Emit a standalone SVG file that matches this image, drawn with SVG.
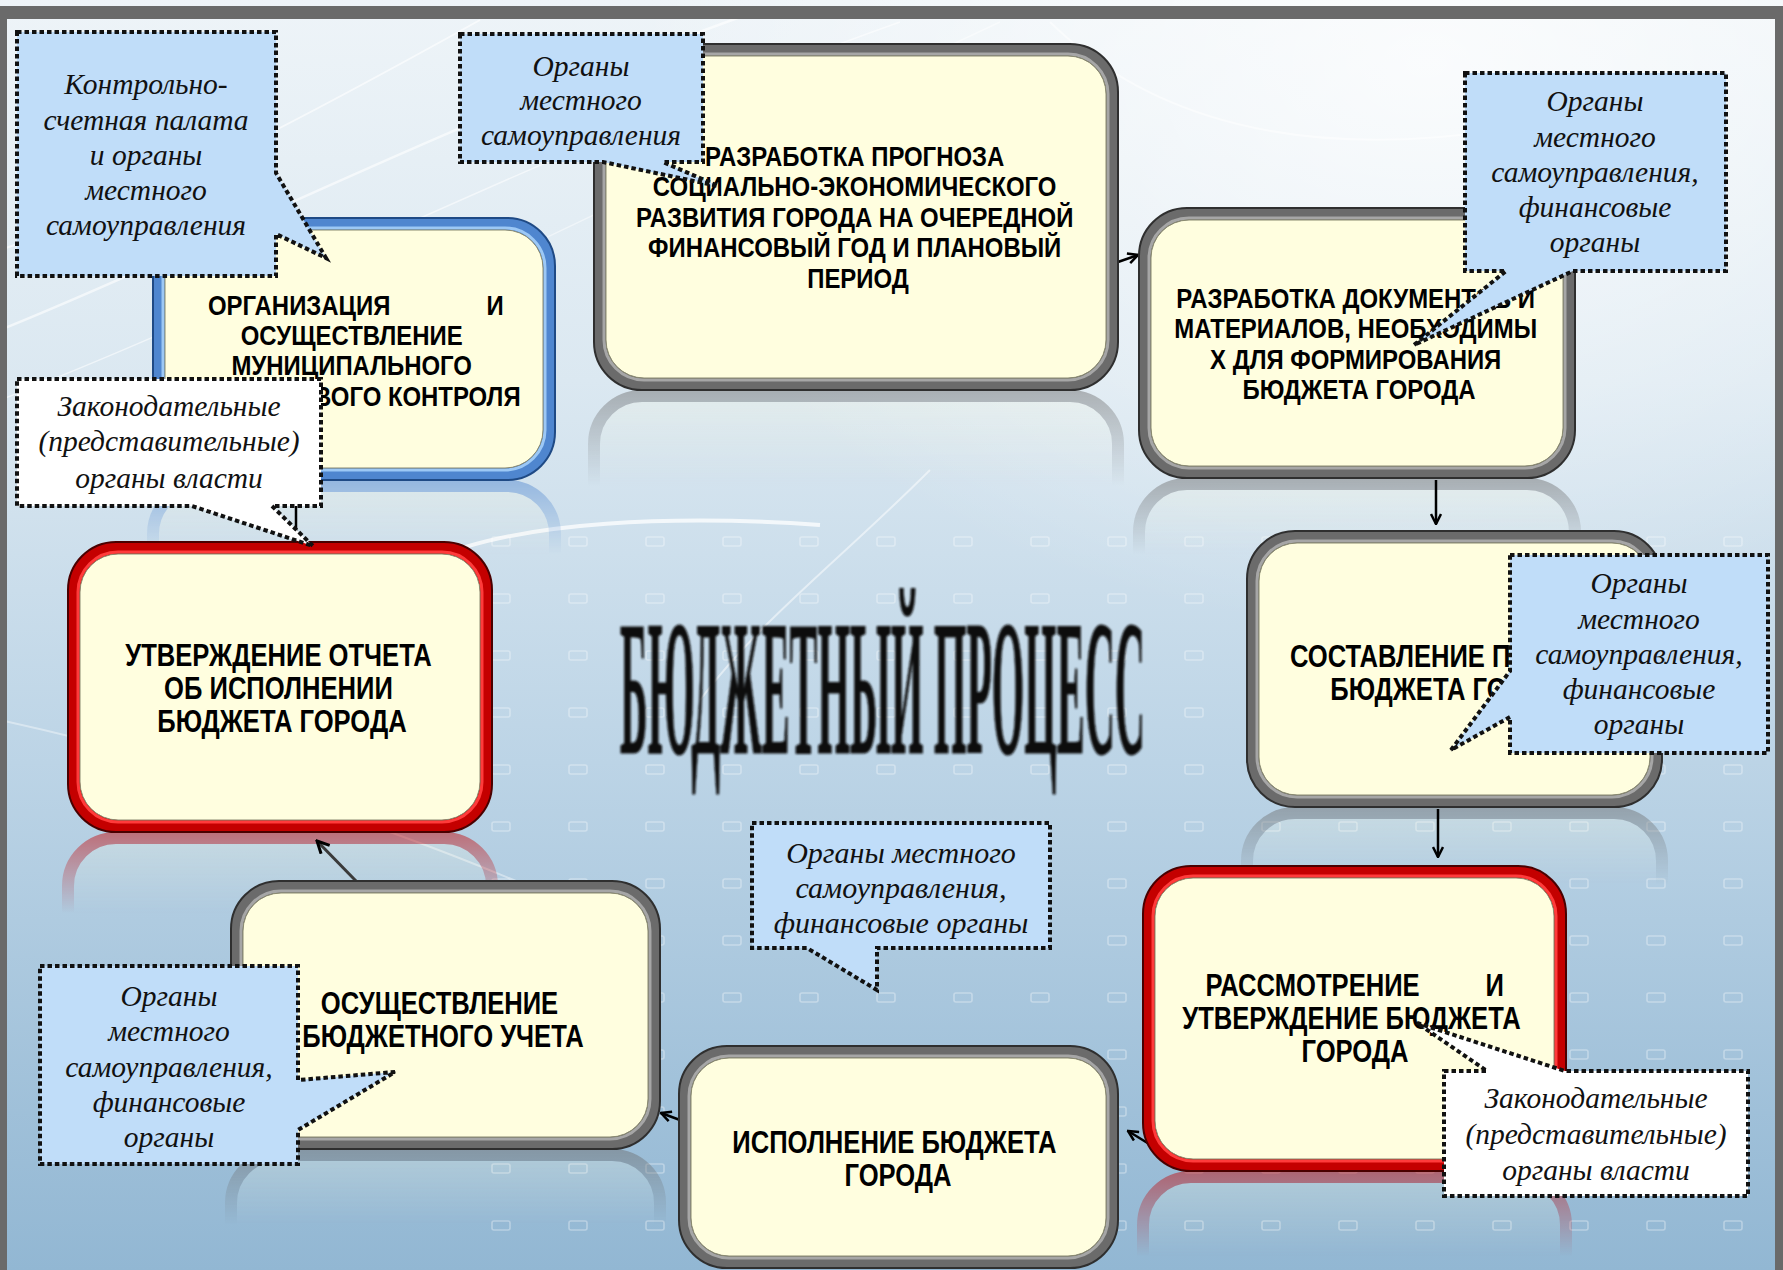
<svg xmlns="http://www.w3.org/2000/svg" width="1783" height="1270" viewBox="0 0 1783 1270">
<defs>
<style>
.ng .o{fill:#6b6b6b;stroke:#2f2f2f;stroke-width:2}
.ng .h{fill:none;stroke:#a6a6a6;stroke-width:3}
.nr .o{fill:#c40000;stroke:#4a0000;stroke-width:2}
.nr .h{fill:none;stroke:#ff3b3b;stroke-width:3}
.nb .o{fill:#4f86cf;stroke:#1f4a85;stroke-width:2}
.nb .h{fill:none;stroke:#9cc8f5;stroke-width:3}
.i{fill:#fffedf;stroke:#8a8a70;stroke-width:1}
.nt{font-family:"Liberation Sans",Arial,sans-serif;font-weight:700;fill:#000;text-anchor:middle}
.s26{font-size:27.5px}
.s28{font-size:32px}
.cb{fill:#c0ddf9;stroke:#111;stroke-width:4;stroke-dasharray:4.5 3;stroke-linejoin:miter}
.cw{fill:#ffffff;stroke:#111;stroke-width:4;stroke-dasharray:4.5 3;stroke-linejoin:miter}
.ct{font-family:"Liberation Serif","Times New Roman",serif;font-style:italic;font-size:29.5px;fill:#111;text-anchor:middle}
.cn{fill:none;stroke:#000;stroke-width:2.5;marker-end:url(#arr)}
.sw{fill:none;stroke:#ffffff}
.rg{fill:#fffedf;fill-opacity:0.5;stroke:#6b6b6b;stroke-width:12}
.rr{fill:#fffedf;fill-opacity:0.5;stroke:#c40000;stroke-width:12}
.rb{fill:#fffedf;fill-opacity:0.5;stroke:#4f86cf;stroke-width:12}
</style>
<linearGradient id="bgv" x1="0" y1="0" x2="0" y2="1">
<stop offset="0" stop-color="#eef4f8"/>
<stop offset="0.3" stop-color="#dbe8f1"/>
<stop offset="0.6" stop-color="#bcd4e6"/>
<stop offset="1" stop-color="#92b7d3"/>
</linearGradient>
<radialGradient id="glowTR" cx="0.8" cy="0.05" r="0.45">
<stop offset="0" stop-color="#ffffff" stop-opacity="0.75"/>
<stop offset="1" stop-color="#ffffff" stop-opacity="0"/>
</radialGradient>
<linearGradient id="reflGrad" x1="0" y1="0" x2="0" y2="1">
<stop offset="0" stop-color="#ffffff" stop-opacity="0.6"/>
<stop offset="0.3" stop-color="#ffffff" stop-opacity="0"/>
</linearGradient>
<mask id="refl" maskContentUnits="objectBoundingBox">
<rect x="-0.1" y="-0.1" width="1.2" height="1.2" fill="url(#reflGrad)"/>
</mask>
<pattern id="marks" x="0" y="0" width="77" height="57" patternUnits="userSpaceOnUse">
<rect x="30" y="24" width="18" height="9" rx="2" fill="none" stroke="#ffffff" stroke-width="1.6"/>
</pattern>
<marker id="arr" viewBox="0 0 10 10" refX="9" refY="5" markerWidth="5" markerHeight="5" orient="auto" markerUnits="strokeWidth">
<path d="M1,1 L9,5 L1,9" fill="none" stroke="#000" stroke-width="2"/>
</marker>
<filter id="soft" x="-5%" y="-5%" width="110%" height="110%"><feGaussianBlur stdDeviation="0.9"/></filter>
</defs>

<g id="background">
<rect x="0" y="0" width="1783" height="1270" fill="url(#bgv)"/>
<rect x="0" y="0" width="1783" height="1270" fill="url(#glowTR)"/>
<rect x="470" y="490" width="1313" height="780" fill="url(#marks)" opacity="0.33"/>
<path class="sw" d="M0,250 C150,200 300,120 480,20" stroke-width="2" opacity="0.6"/>
<path class="sw" d="M0,330 C200,250 450,120 760,10" stroke-width="2.5" opacity="0.6"/>
<path class="sw" d="M0,400 C260,300 540,150 900,22" stroke-width="1.5" opacity="0.55"/>
<path class="sw" d="M40,470 C300,360 620,200 1000,22" stroke-width="1.5" opacity="0.45"/>
<path class="sw" d="M1050,22 C1150,120 1300,160 1500,130" stroke-width="2" opacity="0.5"/>
<path class="sw" d="M430,560 C520,520 680,515 820,525" stroke-width="4" opacity="0.75"/>
<path class="sw" d="M700,700 C760,620 840,560 930,470" stroke-width="2" opacity="0.5"/>
<path class="sw" d="M0,720 C180,760 380,820 560,900" stroke-width="2" opacity="0.4"/>
</g>

<g id="frame" fill="#6a6a6a">
<rect x="0" y="6" width="1783" height="13"/>
<rect x="0" y="6" width="7" height="1264"/>
<rect x="1775" y="6" width="8" height="1264"/>
</g>

<g id="reflections">
<rect class="rg" x="594" y="396" width="524" height="346" rx="48" mask="url(#refl)"/>
<rect class="rg" x="1139" y="484" width="436" height="270" rx="48" mask="url(#refl)"/>
<rect class="rg" x="1247" y="813" width="415" height="276" rx="48" mask="url(#refl)"/>
<rect class="rr" x="1143" y="1177" width="423" height="305" rx="48" mask="url(#refl)"/>
<rect class="rg" x="231" y="1155" width="429" height="268" rx="48" mask="url(#refl)"/>
<rect class="rr" x="68" y="838" width="424" height="290" rx="48" mask="url(#refl)"/>
<rect class="rb" x="153" y="486" width="402" height="262" rx="48" mask="url(#refl)"/>
</g>

<g id="title" filter="url(#soft)">
<text x="620" y="753" font-family="Liberation Serif,'Times New Roman',serif" font-weight="700" font-size="192" textLength="525" lengthAdjust="spacingAndGlyphs" fill="#111" stroke="#111" stroke-width="1.2">БЮДЖЕТНЫЙ ПРОЦЕСС</text>
</g>

<g id="connectors">
<path class="cn" d="M1118,262 L1138,255"/>
<path class="cn" d="M1436,480 L1436,524"/>
<path class="cn" d="M1438,809 L1438,857"/>
<path class="cn" d="M1172,1158 L1128,1131"/>
<path class="cn" d="M680,1120 L661,1113"/>
<path class="cn" d="M356,881 L317,841" style="stroke:#3a3a3a;stroke-width:3"/>
<path class="cn" d="M296,542 L296,482"/>
</g>

<g id="n1" class="ng">
<rect class="o" x="594" y="44" width="524" height="346" rx="48"/>
<rect class="h" x="604" y="54" width="504" height="326" rx="40"/>
<rect class="i" x="606" y="56" width="500" height="322" rx="38"/>
<text class="nt s26" transform="translate(858 0) scale(0.87 1)">
<tspan x="0" y="166">РАЗРАБОТКА ПРОГНОЗА</tspan>
<tspan x="0" y="196">СОЦИАЛЬНО-ЭКОНОМИЧЕСКОГО</tspan>
<tspan x="0" y="227">РАЗВИТИЯ ГОРОДА НА ОЧЕРЕДНОЙ</tspan>
<tspan x="0" y="257">ФИНАНСОВЫЙ ГОД И ПЛАНОВЫЙ</tspan>
<tspan x="0" y="288">ПЕРИОД</tspan>
</text>
</g>

<g id="n2" class="ng">
<rect class="o" x="1139" y="208" width="436" height="270" rx="48"/>
<rect class="h" x="1149" y="218" width="416" height="250" rx="40"/>
<rect class="i" x="1151" y="220" width="412" height="246" rx="38"/>
<text class="nt s26" transform="translate(1359 0) scale(0.87 1)">
<tspan x="0" y="308">РАЗРАБОТКА ДОКУМЕНТОВ И</tspan>
<tspan x="0" y="338">МАТЕРИАЛОВ, НЕОБХОДИМЫ</tspan>
<tspan x="0" y="369">Х ДЛЯ ФОРМИРОВАНИЯ</tspan>
<tspan x="0" y="399">БЮДЖЕТА ГОРОДА</tspan>
</text>
</g>

<g id="n3" class="ng">
<rect class="o" x="1247" y="531" width="415" height="276" rx="48"/>
<rect class="h" x="1257" y="541" width="395" height="256" rx="40"/>
<rect class="i" x="1259" y="543" width="391" height="252" rx="38"/>
<text class="nt s28" transform="translate(1455 0) scale(0.8 1)">
<tspan x="0" y="667">СОСТАВЛЕНИЕ ПРОЕКТА</tspan>
<tspan x="0" y="700">БЮДЖЕТА ГОРОДА</tspan>
</text>
</g>

<g id="n4" class="nr">
<rect class="o" x="1143" y="866" width="423" height="305" rx="48"/>
<rect class="h" x="1153" y="876" width="403" height="285" rx="40"/>
<rect class="i" x="1155" y="878" width="399" height="281" rx="38"/>
<text class="nt s28" transform="translate(1355 0) scale(0.8 1)" style="text-anchor:start" x="-187" y="996">РАССМОТРЕНИЕ</text>
<text class="nt s28" transform="translate(1355 0) scale(0.8 1)" style="text-anchor:end" x="186" y="996">И</text>
<text class="nt s28" transform="translate(1355 0) scale(0.8 1)">
<tspan x="0" y="1029">УТВЕРЖДЕНИЕ БЮДЖЕТА</tspan>
<tspan x="0" y="1062">ГОРОДА</tspan>
</text>
</g>

<g id="n5" class="ng">
<rect class="o" x="679" y="1046" width="439" height="222" rx="48"/>
<rect class="h" x="689" y="1056" width="419" height="202" rx="40"/>
<rect class="i" x="691" y="1058" width="415" height="198" rx="38"/>
<text class="nt s28" transform="translate(898 0) scale(0.8 1)">
<tspan x="0" y="1153">ИСПОЛНЕНИЕ БЮДЖЕТА</tspan>
<tspan x="0" y="1186">ГОРОДА</tspan>
</text>
</g>

<g id="n6" class="ng">
<rect class="o" x="231" y="881" width="429" height="268" rx="48"/>
<rect class="h" x="241" y="891" width="409" height="248" rx="40"/>
<rect class="i" x="243" y="893" width="405" height="244" rx="38"/>
<text class="nt s28" transform="translate(443 0) scale(0.8 1)">
<tspan x="0" y="1014">ОСУЩЕСТВЛЕНИЕ</tspan>
<tspan x="0" y="1047">БЮДЖЕТНОГО УЧЕТА</tspan>
</text>
</g>

<g id="n7" class="nr">
<rect class="o" x="68" y="542" width="424" height="290" rx="48"/>
<rect class="h" x="78" y="552" width="404" height="270" rx="40"/>
<rect class="i" x="80" y="554" width="400" height="266" rx="38"/>
<text class="nt s28" transform="translate(282 0) scale(0.8 1)">
<tspan x="0" y="666">УТВЕРЖДЕНИЕ ОТЧЕТА</tspan>
<tspan x="0" y="699">ОБ ИСПОЛНЕНИИ</tspan>
<tspan x="0" y="732">БЮДЖЕТА ГОРОДА</tspan>
</text>
</g>

<g id="n8" class="nb">
<rect class="o" x="153" y="218" width="402" height="262" rx="48"/>
<rect class="h" x="163" y="228" width="382" height="242" rx="40"/>
<rect class="i" x="165" y="230" width="378" height="238" rx="38"/>
<text class="nt s26" transform="translate(355 0) scale(0.87 1)" style="text-anchor:start" x="-169" y="315">ОРГАНИЗАЦИЯ</text>
<text class="nt s26" transform="translate(355 0) scale(0.87 1)" style="text-anchor:end" x="171" y="315">И</text>
<text class="nt s26" transform="translate(355 0) scale(0.87 1)">
<tspan x="0" y="345">ОСУЩЕСТВЛЕНИЕ</tspan>
<tspan x="0" y="375">МУНИЦИПАЛЬНОГО</tspan>
<tspan x="0" y="406">ФИНАНСОВОГО КОНТРОЛЯ</tspan>
</text>
</g>

<g id="c1">
<path class="cb" d="M17,32 H276 V173 L326,258 L276,234 V276 H17 Z"/>
<text class="ct"><tspan x="146" y="94">Контрольно-</tspan><tspan x="146" y="130">счетная палата</tspan><tspan x="146" y="165">и органы</tspan><tspan x="146" y="200">местного</tspan><tspan x="146" y="235">самоуправления</tspan></text>
</g>

<g id="c2">
<path class="cb" d="M460,34 H703 V162 H663 L718,186 L603,162 H460 Z"/>
<text class="ct"><tspan x="581" y="76">Органы</tspan><tspan x="581" y="110">местного</tspan><tspan x="581" y="145">самоуправления</tspan></text>
</g>

<g id="c3">
<path class="cb" d="M1465,73 H1726 V271 H1573 L1414,345 L1506,271 H1465 Z"/>
<text class="ct"><tspan x="1595" y="111">Органы</tspan><tspan x="1595" y="147">местного</tspan><tspan x="1595" y="182">самоуправления,</tspan><tspan x="1595" y="217">финансовые</tspan><tspan x="1595" y="252">органы</tspan></text>
</g>

<g id="c4">
<path class="cw" d="M17,379 H321 V506 H272 L313,546 L192,506 H17 Z"/>
<text class="ct"><tspan x="169" y="416">Законодательные</tspan><tspan x="169" y="451">(представительные)</tspan><tspan x="169" y="488">органы власти</tspan></text>
</g>

<g id="c5">
<path class="cb" d="M1510,555 H1768 V753 H1510 V717 L1451,750 L1510,671 Z"/>
<text class="ct"><tspan x="1639" y="593">Органы</tspan><tspan x="1639" y="629">местного</tspan><tspan x="1639" y="664">самоуправления,</tspan><tspan x="1639" y="699">финансовые</tspan><tspan x="1639" y="734">органы</tspan></text>
</g>

<g id="c6">
<path class="cb" d="M40,966 H298 V1080 L395,1072 L298,1130 V1164 H40 Z"/>
<text class="ct"><tspan x="169" y="1006">Органы</tspan><tspan x="169" y="1041">местного</tspan><tspan x="169" y="1077">самоуправления,</tspan><tspan x="169" y="1112">финансовые</tspan><tspan x="169" y="1147">органы</tspan></text>
</g>

<g id="c7">
<path class="cb" d="M752,823 H1050 V948 H877 V990 L807,948 H752 Z"/>
<text class="ct" style="font-size:30px"><tspan x="901" y="863">Органы местного</tspan><tspan x="901" y="898">самоуправления,</tspan><tspan x="901" y="933">финансовые органы</tspan></text>
</g>

<g id="c8">
<path class="cw" d="M1444,1071 H1487 L1417,1023 L1565,1071 H1748 V1196 H1444 Z"/>
<text class="ct"><tspan x="1596" y="1108">Законодательные</tspan><tspan x="1596" y="1144">(представительные)</tspan><tspan x="1596" y="1180">органы власти</tspan></text>
</g>
</svg>
